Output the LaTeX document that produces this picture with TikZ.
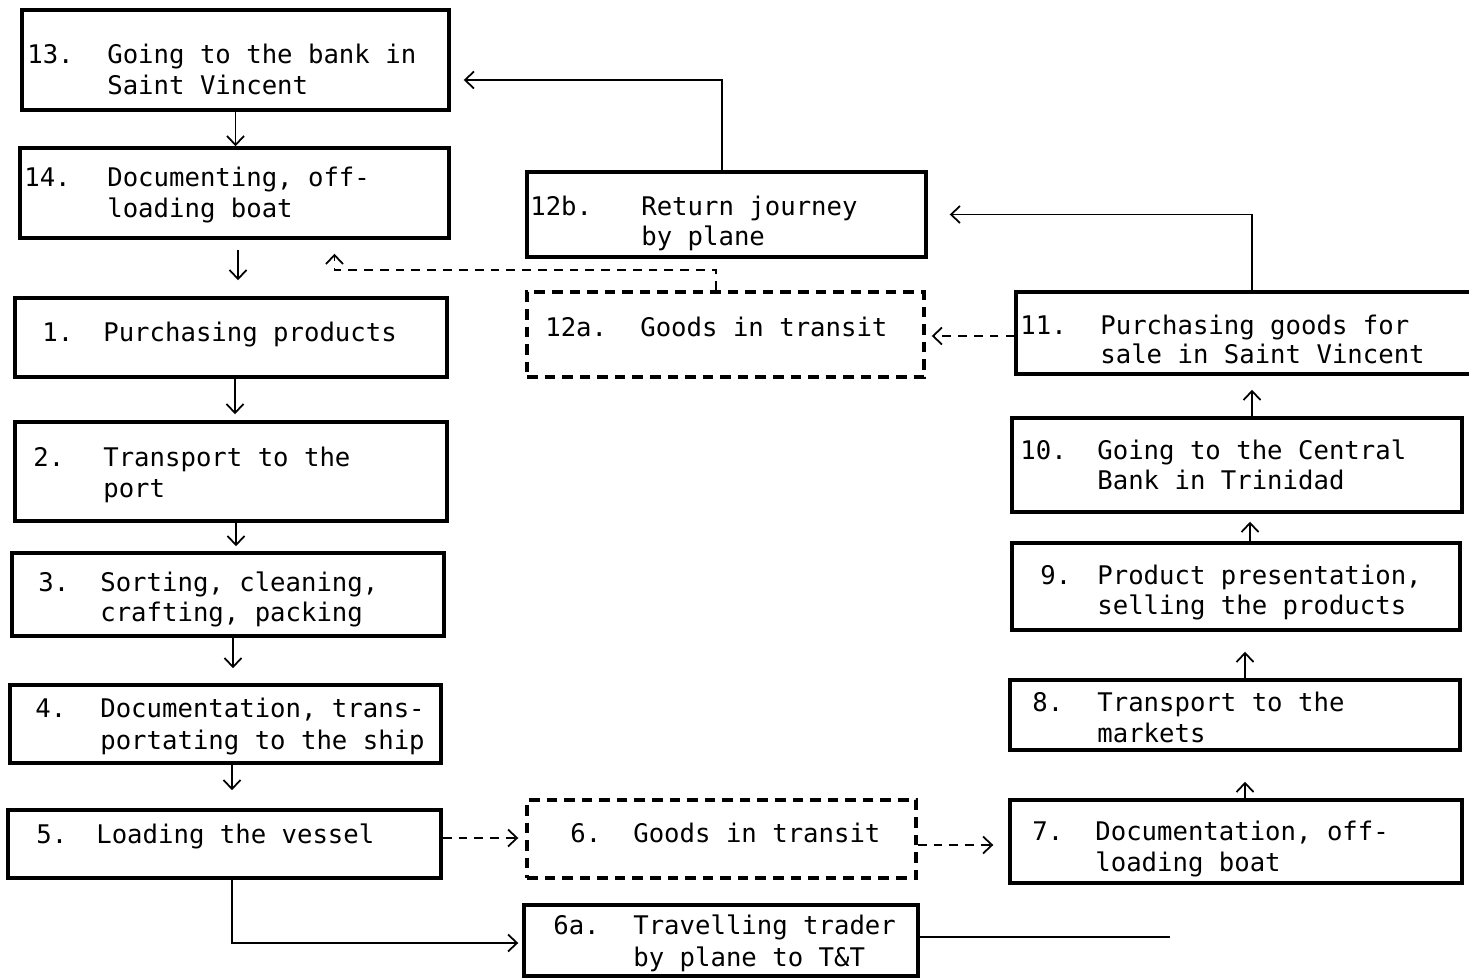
\documentclass[tikz,border=0pt]{standalone}
\usepackage{fontspec}
\newfontfamily\tw{DejaVu Sans Mono}
\usetikzlibrary{arrows.meta}
\newcommand\boxtext[6]{%
  \node[lbl] (#1n) at (#2,#4) {#5};
  \node[lbl] (#1a) at (#3,#4) {#6};}
\newcommand\boxline[4]{\node[lbl] (#1) at (#2,#3) {#4};}
\begin{document}
\begin{tikzpicture}[x=0.02cm,y=-0.02cm,
  box/.style={draw=black, line width=2pt, inner sep=0pt},
  dbox/.style={box, dash pattern=on 6pt off 4pt},
  lbl/.style={anchor=base west, inner sep=0pt, font=\tw\fontsize{14.6}{17}\selectfont},
  arr/.style={draw=black, line width=1pt, -{Straight Barb[length=1.8mm,width=3.4mm]}},
  darr/.style={arr, dash pattern=on 5pt off 4pt},
  plain/.style={draw=black, line width=1pt}]
\useasboundingbox (0,0) rectangle (1469,979);
\fill[white] (0,0) rectangle (1469,979);

% ---- boxes ----
\node[box, minimum width=8.54cm, minimum height=2.00cm] (b13) at (235.5,60) {};
\node[box, minimum width=8.58cm, minimum height=1.80cm] (b14) at (234.5,193) {};
\node[box, minimum width=8.64cm, minimum height=1.58cm] (b1) at (231,337.5) {};
\node[box, minimum width=8.64cm, minimum height=1.98cm] (b2) at (231,471.5) {};
\node[box, minimum width=8.64cm, minimum height=1.66cm] (b3) at (228,594.5) {};
\node[box, minimum width=8.62cm, minimum height=1.56cm] (b4) at (225.5,724) {};
\node[box, minimum width=8.66cm, minimum height=1.36cm] (b5) at (224.5,844) {};
\node[dbox, minimum width=7.78cm, minimum height=1.56cm] (b6) at (721.5,839) {};
\node[box, minimum width=9.04cm, minimum height=1.66cm] (b7) at (1236,841.5) {};
\node[box, minimum width=7.88cm, minimum height=1.42cm] (b6a) at (721,940.5) {};
\node[box, minimum width=7.98cm, minimum height=1.70cm] (b12b) at (726.5,214.5) {};
\node[dbox, minimum width=7.94cm, minimum height=1.70cm] (b12a) at (725.5,334.5) {};
\node[box, minimum width=9.18cm, minimum height=1.64cm] (b11) at (1245.5,333) {};
\node[box, minimum width=9.00cm, minimum height=1.88cm] (b10) at (1237,465) {};
\node[box, minimum width=8.96cm, minimum height=1.74cm] (b9) at (1236,586.5) {};
\node[box, minimum width=9.00cm, minimum height=1.40cm] (b8) at (1235,715) {};

% ---- texts ----
\boxtext{t13}{27}{107}{64}{13.}{Going to the bank in}
\boxline{t13b}{107}{95}{Saint Vincent}
\boxtext{t14}{24}{107}{187}{14.}{Documenting, off-}
\boxline{t14b}{107}{218}{loading boat}
\boxtext{t1}{42}{103}{342}{1.}{Purchasing products}
\boxtext{t2}{33}{103}{466}{2.}{Transport to the}
\boxline{t2b}{103}{497}{port}
\boxtext{t3}{38}{100}{591}{3.}{Sorting, cleaning,}
\boxline{t3b}{100}{621}{crafting, packing}
\boxtext{t4}{35}{100}{717}{4.}{Documentation, trans-}
\boxline{t4b}{100}{749}{portating to the ship}
\boxtext{t5}{36}{96}{843}{5.}{Loading the vessel}
\boxtext{t6}{570}{633}{842}{6.}{Goods in transit}
\boxtext{t6a}{553}{633}{934}{6a.}{Travelling trader}
\boxline{t6ab}{633}{966}{by plane to T\&T}
\boxtext{t7}{1032}{1095}{840}{7.}{Documentation, off-}
\boxline{t7b}{1095}{871}{loading boat}
\boxtext{t8}{1032}{1097}{711}{8.}{Transport to the}
\boxline{t8b}{1097}{742}{markets}
\boxtext{t9}{1040}{1097}{584}{9.}{Product presentation,}
\boxline{t9b}{1097}{614}{selling the products}
\boxtext{t10}{1020}{1097}{459}{10.}{Going to the Central}
\boxline{t10b}{1097}{489}{Bank in Trinidad}
\boxtext{t11}{1020}{1100}{335}{11.}{Purchasing goods for}
\boxline{t11b}{1100}{364}{sale in Saint Vincent}
\boxtext{t12a}{545}{640}{337}{12a.}{Goods in transit}
\boxtext{t12b}{530}{641}{216}{12b.}{Return journey}
\boxline{t12bb}{641}{246}{by plane}

% ---- connectors ----
\draw[arr] (b13.south) -- (b13.south |- b14.north);
\draw[arr, shorten <=0.2cm, shorten >=0.32cm] ([xshift=0.07cm]b14.south) -- ([xshift=0.07cm]b14.south |- b1.north);
\draw[arr, shorten >=0.12cm] ([xshift=0.08cm]b1.south) -- ([xshift=0.08cm]b1.south |- b2.north);
\draw[arr, shorten >=0.1cm] ([xshift=0.1cm]b2.south) -- ([xshift=0.1cm]b2.south |- b3.north);
\draw[arr, shorten >=0.3cm] ([xshift=0.1cm]b3.south) -- ([xshift=0.1cm]b3.south |- b4.north);
\draw[arr, shorten >=0.36cm] ([xshift=0.13cm]b4.south) -- ([xshift=0.13cm]b4.south |- b5.north);
\draw[darr, shorten >=0.14cm] ([yshift=0.12cm]b5.east) -- ([yshift=0.12cm]b5.east -| b6.west);
\draw[darr, shorten >=0.3cm] ([yshift=-0.12cm]b6.east) -- ([yshift=-0.12cm]b6.east -| b7.west);
\draw[arr, shorten >=0.08cm] ([xshift=0.15cm]b5.south) |- ([yshift=-0.05cm]b6a.west);
\coordinate (e6a) at (1170,937);
\draw[plain] (b6a.east |- e6a) -- (e6a);
\draw[arr, shorten >=0.6cm] ([xshift=0.18cm]b7.north) -- ([xshift=0.18cm]b7.north |- b8.south);
\draw[arr, shorten >=0.4cm] ([xshift=0.2cm]b8.north) -- ([xshift=0.2cm]b8.north |- b9.south);
\draw[arr, shorten >=0.16cm] ([xshift=0.28cm]b9.north) -- ([xshift=0.28cm]b9.north |- b10.south);
\draw[arr, shorten >=0.28cm] ([xshift=0.3cm]b10.north) -- ([xshift=0.3cm]b10.north |- b11.south);
\draw[arr, shorten >=0.44cm] ([xshift=0.13cm]b11.north) |- (b12b.east);
\draw[darr, shorten >=0.12cm] ([yshift=-0.06cm]b11.west) -- ([yshift=-0.06cm]b11.west -| b12a.east);
\draw[arr, shorten >=0.26cm] ([xshift=-0.09cm]b12b.north) |- ([yshift=-0.4cm]b13.east);
\draw[darr] ([xshift=-0.19cm]b12a.north) |- ([xshift=2cm,yshift=-0.6cm]b14.south) -- ([xshift=2cm,yshift=-0.28cm]b14.south);
\end{tikzpicture}
\end{document}
